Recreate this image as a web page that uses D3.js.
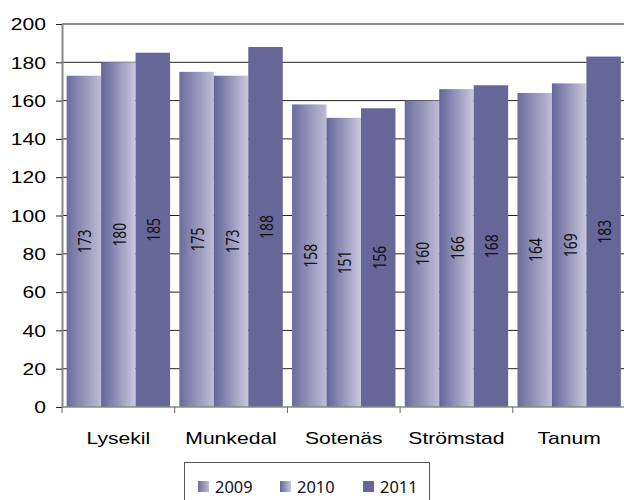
<!DOCTYPE html>
<html>
<head>
  <meta charset="utf-8">
  <title>Bar chart</title>
  <script src="https://d3js.org/d3.v7.min.js"></script>
  <style>
  body {
    margin: 0;
    background: #fff;
  }

  svg {
    display: block;
    background: #fff;
  }

  .grid line {
    stroke: #222;
    stroke-width: 1;
  }
  </style>
</head>
<body>
  <script>

    var categories = ["Lysekil", "Munkedal", "Sotenäs", "Strömstad", "Tanum"];
    var years = ["2009", "2010", "2011"];
    var values2009 = [173, 175, 158, 160, 164];
    var values2010 = [180, 173, 151, 166, 169];
    var values2011 = [185, 188, 156, 168, 183];
    var yTicks = [0, 20, 40, 60, 80, 100, 120, 140, 160, 180, 200];

    var seriesValues = [values2009, values2010, values2011];

    var width = 624;
    var height = 500;

    // note: "top" is taken by window.top, so plot* names
    var plotLeft = 62;
    var plotRight = 625.5;
    var plotTop = 24;
    var plotBottom = 407;

    var svg = d3.select("body")
      .append("svg")
      .attr("width", width)
      .attr("height", height);

    // bar fills: two gradients and a flat colour
    var defs = svg.append("defs");
    var gradStops = [
      ["#6c6c9d", "#bdbdd5"],
      ["#646499", "#c9c9dd"]
    ];
    gradStops.forEach(function(s, i) {
      var g = defs.append("linearGradient")
        .attr("id", "grad" + i)
        .attr("x1", "0").attr("y1", "0")
        .attr("x2", "1").attr("y2", "0");
      g.append("stop").attr("offset", "0").attr("stop-color", s[0]);
      g.append("stop").attr("offset", "1").attr("stop-color", s[1]);
    });
    var fills = ["url(#grad0)", "url(#grad1)", "#666699"];

    var x = d3.scaleBand()
      .domain(categories)
      .range([plotLeft, plotRight])
      .paddingInner(0.0825)
      .paddingOuter(0.04125);

    var xSub = d3.scaleBand()
      .domain(years)
      .range([0, x.bandwidth()])
      .padding(0);

    var y = d3.scaleLinear()
      .domain([0, 200])
      .range([plotBottom, plotTop]);

    // gridlines
    svg.append("g")
      .attr("class", "grid")
      .selectAll("line")
      .data(yTicks.filter(function(d) { return d > 0; }))
      .enter()
      .append("line")
      .attr("x1", plotLeft)
      .attr("x2", width)
      .attr("y1", function(d) { return y(d); })
      .attr("y2", function(d) { return y(d); });

    // bars
    var groups = svg.append("g")
      .selectAll("g")
      .data(categories)
      .enter()
      .append("g")
      .attr("transform", function(d) { return "translate(" + x(d) + ",0)"; });

    var bars = groups.selectAll("rect")
      .data(function(d, i) {
        return years.map(function(yr, j) {
          return { year: yr, idx: j, value: seriesValues[j][i] };
        });
      })
      .enter();

    bars.append("rect")
      .attr("x", function(d) { return xSub(d.year); })
      .attr("y", function(d) { return y(d.value); })
      .attr("width", xSub.bandwidth())
      .attr("height", function(d) { return plotBottom - y(d.value); })
      .attr("fill", function(d) { return fills[d.idx]; });

    bars.append("text")
      .attr("transform", function(d) {
        var cx = xSub(d.year) + xSub.bandwidth() / 2 + 1;
        var cy = (y(d.value) + plotBottom) / 2;
        return "translate(" + cx + "," + cy + ") rotate(-90) scale(0.87,1.14)";
      })
      .attr("text-anchor", "middle")
      .attr("dy", "0.357em")
      .attr("font-family", "'Noto Sans', sans-serif")
      .attr("font-size", 16)
      .attr("fill", "#111")
      .text(function(d) { return d.value; });

    // y axis
    var yAxis = svg.append("g")
      .attr("transform", "translate(" + plotLeft + ",0)")
      .call(d3.axisLeft(y).tickValues(yTicks).tickSize(6).tickSizeOuter(0));
    yAxis.select(".domain")
      .attr("stroke", "#888")
      .attr("stroke-width", 2);
    yAxis.selectAll(".tick line")
      .attr("stroke", "#222")
      .attr("stroke-width", 1);
    yAxis.selectAll(".tick text")
      .attr("x", null)
      .attr("dy", "0.358em")
      .attr("transform", "translate(-16,0) scale(1.32,1)")
      .attr("text-anchor", "end")
      .attr("font-family", "'Liberation Sans', Arial, sans-serif")
      .attr("font-size", 16)
      .attr("fill", "#000");

    // x axis line and category ticks
    svg.append("line")
      .attr("x1", plotLeft)
      .attr("x2", width)
      .attr("y1", plotBottom)
      .attr("y2", plotBottom)
      .attr("stroke", "#888")
      .attr("stroke-width", 1.5);

    var step = x.step();
    svg.append("g")
      .selectAll("line")
      .data(categories)
      .enter()
      .append("line")
      .attr("x1", function(d) { return x(d) - step * 0.04125; })
      .attr("x2", function(d) { return x(d) - step * 0.04125; })
      .attr("y1", plotBottom)
      .attr("y2", plotBottom + 6)
      .attr("stroke", "#666");

    svg.append("g")
      .selectAll("text")
      .data(categories)
      .enter()
      .append("text")
      .attr("transform", function(d) {
        return "translate(" + (x(d) + x.bandwidth() / 2) + ",444) scale(1.32,1)";
      })
      .attr("text-anchor", "middle")
      .attr("font-family", "'Liberation Sans', Arial, sans-serif")
      .attr("font-size", 16)
      .attr("fill", "#000")
      .text(function(d) { return d; });

    // legend
    var legend = svg.append("g");
    legend.append("rect")
      .attr("x", 184.5)
      .attr("y", 462.5)
      .attr("width", 245)
      .attr("height", 60)
      .attr("fill", "#fff")
      .attr("stroke", "#555");

    var legendX = [198, 280, 363];
    var items = legend.selectAll("g.item")
      .data(years)
      .enter()
      .append("g")
      .attr("class", "item")
      .attr("transform", function(d, i) { return "translate(" + legendX[i] + ",0)"; });

    items.append("rect")
      .attr("x", 0)
      .attr("y", 481)
      .attr("width", 11)
      .attr("height", 11)
      .attr("fill", function(d, i) { return fills[i]; });

    items.append("text")
      .attr("x", 17)
      .attr("y", 492.5)
      .attr("font-family", "'Noto Sans', sans-serif")
      .attr("font-size", 16.4)
      .attr("fill", "#111")
      .text(function(d) { return d; });

  </script>
</body>
</html>
